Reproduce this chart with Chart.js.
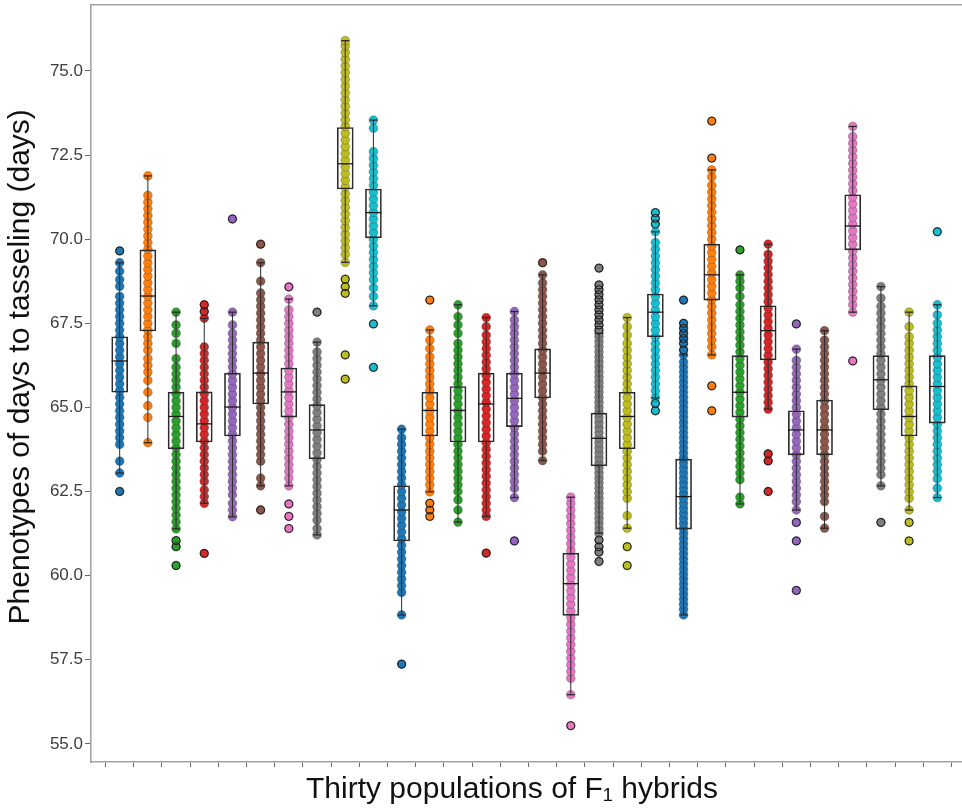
<!DOCTYPE html>
<html>
<head>
<meta charset="utf-8">
<script src="https://cdn.jsdelivr.net/npm/chart.js@4.4.1/dist/chart.umd.min.js"></script>
<style>
  html, body { margin: 0; padding: 0; background: #fff; overflow: hidden; }
  canvas { display: block; }
</style>
</head>
<body>
<canvas id="box" width="1024" height="809"></canvas>
<script>
// thirty F1 populations, one box + strip of points each
const populations = Array.from({length: 30}, (item, index) => 'F1-' + (index + 1));

// box statistics (days)
const whiskLow  = [63.05, 63.95, 61.39, 62.15, 61.75, 62.67, 62.67, 61.21, 69.31, 68.02,
                   58.83, 62.49, 61.59, 61.76, 62.32, 63.42, 56.46, 61.26, 61.41, 65.28,
                   58.83, 66.56, 62.13, 64.95, 61.95, 61.41, 67.83, 62.67, 61.95, 62.32];
const boxLow    = [65.45, 67.27, 63.77, 63.97, 64.15, 65.10, 64.71, 63.47, 71.49, 70.04,
                   61.03, 64.15, 63.97, 63.97, 64.43, 65.28, 58.82, 63.26, 63.77, 67.10,
                   61.38, 68.19, 64.71, 66.41, 63.59, 63.59, 69.68, 64.93, 64.15, 64.53];
const medians   = [66.38, 68.31, 64.73, 64.51, 65.01, 66.02, 65.46, 64.33, 72.24, 70.79,
                   61.95, 64.91, 64.91, 65.10, 65.27, 66.02, 59.76, 64.08, 64.73, 67.83,
                   62.35, 68.94, 65.45, 67.28, 64.33, 64.33, 70.39, 65.82, 64.73, 65.62];
const boxHigh   = [67.10, 69.68, 65.45, 65.46, 66.02, 66.94, 66.17, 65.08, 73.32, 71.49,
                   62.67, 65.45, 65.62, 66.02, 66.02, 66.74, 60.67, 64.83, 65.45, 68.37,
                   63.46, 69.85, 66.54, 68.02, 64.90, 65.22, 71.32, 66.54, 65.64, 66.54];
const whiskHigh = [69.30, 71.88, 67.83, 67.65, 67.83, 69.30, 68.22, 66.94, 75.90, 73.54,
                   64.35, 67.30, 68.05, 67.67, 67.85, 68.94, 62.33, 67.20, 67.67, 70.22,
                   66.56, 72.06, 68.94, 69.85, 66.73, 67.28, 73.35, 68.59, 67.83, 68.05];

// fliers (drawn as open black circles)
const outliers = [
  [62.5, 69.65], [], [61.04, 60.86, 60.3], [68.05, 67.85, 60.66], [70.6],
  [69.85, 61.95], [68.58, 62.13, 61.76, 61.4], [67.83], [68.81, 68.59, 68.39, 66.56, 65.84], [67.48, 66.19],
  [57.37], [68.19, 62.15, 61.95, 61.76], [], [60.67], [61.03],
  [69.3], [55.54], [69.14, 68.64, 68.5, 68.35, 68.2, 68.05, 67.9, 67.75, 67.6, 67.45, 67.3, 61.06, 60.86, 60.7, 60.42], [60.86, 60.3], [70.79, 70.62, 70.45, 65.12, 64.9],
  [68.19, 67.5, 67.35, 67.2, 67.05, 66.9, 66.71], [73.51, 72.41, 65.64, 64.9], [69.68], [63.62, 63.41, 62.5], [67.48, 61.58, 61.03, 59.56],
  [], [66.38], [61.58], [61.58, 61.03], [70.22]
];

// strip points (values overlap heavily, so only distinct levels are listed)
const points = [
  [62.5, 63.05, 63.4, 63.9, 64.1, 64.3, 64.5, 64.7, 64.9, 65.1, 65.3, 65.5, 65.7, 65.9, 66.1, 66.3, 66.5, 66.7, 66.9, 67.1, 67.3, 67.5, 67.7, 67.9, 68.1, 68.3, 68.6, 68.8, 69.05, 69.3, 69.65],
  [63.95, 64.7, 65.05, 65.45, 65.8, 66.05, 66.25, 66.45, 66.7, 66.9, 67.1, 67.3, 67.5, 67.7, 67.9, 68.1, 68.3, 68.5, 68.7, 68.9, 69.1, 69.3, 69.5, 69.7, 69.9, 70.1, 70.3, 70.5, 70.7, 70.9, 71.1, 71.3, 71.88],
  [60.3, 60.86, 61.04, 61.39, 61.6, 61.8, 62.0, 62.2, 62.4, 62.6, 62.8, 63.0, 63.2, 63.4, 63.6, 63.8, 64.0, 64.2, 64.4, 64.6, 64.8, 65.0, 65.2, 65.4, 65.6, 65.8, 66.0, 66.2, 66.45, 66.9, 67.2, 67.45, 67.83],
  [60.66, 62.15, 62.35, 62.55, 62.8, 63.0, 63.2, 63.4, 63.6, 63.8, 64.0, 64.2, 64.4, 64.6, 64.8, 65.0, 65.2, 65.4, 65.6, 65.8, 66.0, 66.2, 66.4, 66.6, 66.8, 67.65, 67.85, 68.05],
  [61.75, 61.95, 62.15, 62.4, 62.6, 62.8, 63.0, 63.2, 63.4, 63.6, 63.8, 64.0, 64.2, 64.4, 64.6, 64.8, 65.0, 65.2, 65.4, 65.6, 65.8, 66.0, 66.2, 66.4, 66.6, 66.8, 67.0, 67.2, 67.45, 67.83, 70.6],
  [61.95, 62.67, 62.9, 63.4, 63.6, 63.8, 64.0, 64.2, 64.4, 64.6, 64.8, 65.0, 65.2, 65.4, 65.6, 65.8, 66.0, 66.2, 66.4, 66.6, 66.8, 67.0, 67.2, 67.4, 67.6, 67.8, 68.0, 68.2, 68.4, 68.75, 69.3, 69.85],
  [61.4, 61.76, 62.13, 62.67, 62.9, 63.1, 63.3, 63.5, 63.7, 63.9, 64.1, 64.3, 64.5, 64.7, 64.9, 65.1, 65.3, 65.5, 65.7, 65.9, 66.1, 66.3, 66.5, 66.7, 66.9, 67.1, 67.3, 67.5, 67.7, 67.9, 68.22, 68.58],
  [61.21, 61.4, 61.65, 61.85, 62.05, 62.25, 62.45, 62.65, 62.85, 63.05, 63.25, 63.45, 63.65, 63.85, 64.05, 64.25, 64.45, 64.65, 64.85, 65.05, 65.25, 65.45, 65.65, 65.85, 66.05, 66.25, 66.45, 66.65, 66.94, 67.83],
  [65.84, 66.56, 68.39, 68.59, 68.81, 69.31, 69.55, 69.75, 69.95, 70.15, 70.35, 70.55, 70.75, 70.95, 71.15, 71.35, 71.55, 71.75, 71.95, 72.15, 72.35, 72.55, 72.75, 72.95, 73.15, 73.35, 73.55, 73.75, 73.95, 74.15, 74.35, 74.55, 74.75, 74.95, 75.15, 75.35, 75.55, 75.75, 75.9],
  [66.19, 67.48, 68.02, 68.3, 68.55, 68.8, 69.0, 69.2, 69.4, 69.6, 69.8, 70.0, 70.2, 70.4, 70.6, 70.8, 71.0, 71.2, 71.4, 71.6, 71.8, 72.0, 72.2, 72.4, 72.6, 73.3, 73.54],
  [57.37, 58.83, 59.5, 59.7, 59.9, 60.1, 60.3, 60.5, 60.7, 60.9, 61.1, 61.3, 61.5, 61.7, 61.9, 62.1, 62.3, 62.5, 62.7, 62.9, 63.1, 63.3, 63.5, 63.7, 63.9, 64.1, 64.35],
  [61.76, 61.95, 62.15, 62.49, 62.7, 62.9, 63.1, 63.3, 63.5, 63.7, 63.9, 64.1, 64.3, 64.5, 64.7, 64.9, 65.1, 65.3, 65.5, 65.7, 65.9, 66.1, 66.3, 66.5, 66.75, 67.0, 67.3, 68.19],
  [61.59, 61.95, 62.25, 62.5, 62.7, 62.9, 63.1, 63.3, 63.5, 63.7, 63.9, 64.1, 64.3, 64.5, 64.7, 64.9, 65.1, 65.3, 65.5, 65.7, 65.9, 66.1, 66.3, 66.5, 66.7, 66.9, 67.2, 67.45, 67.7, 68.05],
  [60.67, 61.76, 61.95, 62.15, 62.35, 62.55, 62.75, 62.95, 63.15, 63.35, 63.55, 63.75, 63.95, 64.15, 64.35, 64.55, 64.75, 64.95, 65.15, 65.35, 65.55, 65.75, 65.95, 66.15, 66.35, 66.55, 66.75, 66.95, 67.15, 67.4, 67.67],
  [61.03, 62.32, 62.6, 62.8, 63.0, 63.2, 63.4, 63.6, 63.8, 64.0, 64.2, 64.4, 64.6, 64.8, 65.0, 65.2, 65.4, 65.6, 65.8, 66.0, 66.2, 66.4, 66.6, 66.8, 67.0, 67.2, 67.4, 67.6, 67.85],
  [63.42, 63.7, 63.9, 64.1, 64.3, 64.5, 64.7, 64.9, 65.1, 65.3, 65.5, 65.7, 65.9, 66.1, 66.3, 66.5, 66.7, 66.9, 67.1, 67.3, 67.5, 67.7, 67.9, 68.1, 68.3, 68.5, 68.7, 68.94, 69.3],
  [55.54, 56.46, 56.95, 57.15, 57.35, 57.55, 57.75, 57.95, 58.15, 58.35, 58.55, 58.75, 58.95, 59.15, 59.35, 59.55, 59.75, 59.95, 60.15, 60.35, 60.55, 60.75, 60.95, 61.15, 61.35, 61.55, 61.75, 61.95, 62.15, 62.33],
  [60.42, 60.7, 60.86, 61.06, 61.26, 61.4, 61.55, 61.7, 61.85, 62.0, 62.15, 62.3, 62.45, 62.6, 62.75, 62.9, 63.05, 63.2, 63.35, 63.5, 63.65, 63.8, 63.95, 64.1, 64.25, 64.4, 64.55, 64.7, 64.85, 65.0, 65.15, 65.3, 65.45, 65.6, 65.75, 65.9, 66.05, 66.2, 66.35, 66.5, 66.65, 66.8, 66.95, 67.1, 67.2, 67.3, 67.45, 67.6, 67.75, 67.9, 68.05, 68.2, 68.35, 68.5, 68.64, 69.14],
  [60.3, 60.86, 61.41, 61.78, 62.3, 62.5, 62.7, 62.9, 63.1, 63.3, 63.5, 63.7, 63.9, 64.1, 64.3, 64.5, 64.7, 64.9, 65.1, 65.3, 65.5, 65.7, 65.9, 66.1, 66.3, 66.5, 66.7, 66.9, 67.15, 67.4, 67.67],
  [64.9, 65.12, 65.3, 65.5, 65.7, 65.9, 66.1, 66.3, 66.5, 66.7, 66.9, 67.1, 67.3, 67.5, 67.7, 67.9, 68.1, 68.3, 68.5, 68.7, 68.9, 69.1, 69.3, 69.5, 69.7, 69.9, 70.22, 70.45, 70.62, 70.79],
  [58.83, 59.0, 59.15, 59.3, 59.45, 59.6, 59.75, 59.9, 60.05, 60.2, 60.35, 60.5, 60.65, 60.8, 60.95, 61.1, 61.25, 61.4, 61.55, 61.7, 61.85, 62.0, 62.15, 62.3, 62.45, 62.6, 62.75, 62.9, 63.05, 63.2, 63.35, 63.5, 63.65, 63.8, 63.95, 64.1, 64.25, 64.4, 64.55, 64.7, 64.85, 65.0, 65.15, 65.3, 65.45, 65.6, 65.75, 65.9, 66.05, 66.2, 66.35, 66.56, 66.71, 66.9, 67.05, 67.2, 67.35, 67.5, 68.19],
  [64.9, 65.64, 66.56, 66.8, 67.0, 67.2, 67.4, 67.6, 67.8, 68.0, 68.2, 68.4, 68.6, 68.8, 69.0, 69.2, 69.4, 69.6, 69.8, 70.0, 70.2, 70.4, 70.6, 70.8, 71.0, 71.2, 71.4, 71.6, 71.85, 72.06, 72.41, 73.51],
  [62.13, 62.33, 62.85, 63.05, 63.25, 63.45, 63.65, 63.85, 64.05, 64.25, 64.45, 64.65, 64.85, 65.05, 65.25, 65.45, 65.65, 65.85, 66.05, 66.25, 66.45, 66.65, 66.85, 67.05, 67.25, 67.45, 67.65, 67.85, 68.05, 68.3, 68.55, 68.75, 68.94, 69.68],
  [62.5, 63.41, 63.62, 64.95, 65.15, 65.35, 65.55, 65.75, 65.95, 66.15, 66.35, 66.55, 66.75, 66.95, 67.15, 67.35, 67.55, 67.75, 67.95, 68.15, 68.35, 68.55, 68.75, 68.95, 69.15, 69.35, 69.55, 69.85],
  [59.56, 61.03, 61.58, 61.95, 62.2, 62.4, 62.6, 62.8, 63.0, 63.2, 63.4, 63.6, 63.8, 64.0, 64.2, 64.4, 64.6, 64.8, 65.0, 65.2, 65.4, 65.6, 65.8, 66.0, 66.2, 66.4, 66.73, 67.48],
  [61.41, 61.76, 62.2, 62.4, 62.6, 62.8, 63.0, 63.2, 63.4, 63.6, 63.8, 64.0, 64.2, 64.4, 64.6, 64.8, 65.0, 65.2, 65.4, 65.6, 65.8, 66.0, 66.2, 66.4, 66.6, 66.8, 67.0, 67.28],
  [66.38, 67.83, 68.05, 68.25, 68.45, 68.65, 68.85, 69.05, 69.25, 69.45, 69.65, 69.85, 70.05, 70.25, 70.45, 70.65, 70.85, 71.05, 71.25, 71.45, 71.65, 71.85, 72.05, 72.25, 72.45, 72.65, 72.85, 73.05, 73.35],
  [61.58, 62.67, 63.0, 63.2, 63.4, 63.6, 63.8, 64.0, 64.2, 64.4, 64.6, 64.8, 65.0, 65.2, 65.4, 65.6, 65.8, 66.0, 66.2, 66.4, 66.6, 66.8, 67.0, 67.2, 67.4, 67.6, 67.8, 68.0, 68.25, 68.59],
  [61.03, 61.58, 61.95, 62.3, 62.5, 62.7, 62.9, 63.1, 63.3, 63.5, 63.7, 63.9, 64.1, 64.3, 64.5, 64.7, 64.9, 65.1, 65.3, 65.5, 65.7, 65.9, 66.1, 66.3, 66.5, 66.7, 66.9, 67.1, 67.4, 67.83],
  [62.32, 62.6, 62.88, 63.1, 63.3, 63.5, 63.7, 63.9, 64.1, 64.3, 64.5, 64.7, 64.9, 65.1, 65.3, 65.5, 65.7, 65.9, 66.1, 66.3, 66.5, 66.7, 66.9, 67.1, 67.3, 67.5, 67.75, 68.05, 70.22]
];

// y axis tick values
const yTicks = [55.0, 57.5, 60.0, 62.5, 65.0, 67.5, 70.0, 72.5, 75.0];

// matplotlib default colour cycle
const palette = ['#1f77b4', '#ff7f0e', '#2ca02c', '#d62728', '#9467bd',
                 '#8c564b', '#e377c2', '#7f7f7f', '#bcbd22', '#17becf'];

const spineColor = '#a3a3a3';
const lineColor = '#2b2b2b';
const font = 'Liberation Sans, Arial, sans-serif';

const datasets = [];

// strip points, one dataset per population (drawn underneath the boxes)
points.forEach((vals, i) => {
    datasets.push({
        type: 'scatter',
        data: vals.map(v => ({x: i, y: v})),
        pointRadius: 4.4,
        pointBackgroundColor: palette[i % palette.length],
        pointBorderColor: 'rgba(30,30,30,0.45)',
        pointBorderWidth: 0.6,
        order: 5
    });
});

// whiskers: q1 -> low and q3 -> high, separated by gaps
const whiskerData = [];
populations.forEach((p, i) => {
    whiskerData.push({x: i, y: whiskLow[i]}, {x: i, y: boxLow[i]}, {x: i, y: null});
    whiskerData.push({x: i, y: boxHigh[i]}, {x: i, y: whiskHigh[i]}, {x: i, y: null});
});
datasets.push({
    type: 'line',
    data: whiskerData,
    borderColor: lineColor,
    borderWidth: 1,
    pointRadius: 0,
    spanGaps: false,
    order: 2
});

// whisker caps
const capData = [];
populations.forEach((p, i) => {
    capData.push({x: i, y: whiskLow[i]}, {x: i, y: whiskHigh[i]});
});
datasets.push({
    type: 'scatter',
    data: capData,
    pointStyle: 'line',
    pointRadius: 4,
    pointBorderColor: lineColor,
    pointBorderWidth: 1.3,
    order: 2
});

// boxes q1..q3
datasets.push({
    type: 'bar',
    data: populations.map((p, i) => ({x: i, y: [boxLow[i], boxHigh[i]]})),
    backgroundColor: 'rgba(0,0,0,0)',
    borderColor: lineColor,
    borderWidth: 1,
    borderSkipped: false,
    barThickness: 16,
    grouped: false,
    order: 2
});

// medians
datasets.push({
    type: 'scatter',
    data: populations.map((p, i) => ({x: i, y: medians[i]})),
    pointStyle: 'line',
    pointRadius: 8,
    pointBorderColor: '#1a1a1a',
    pointBorderWidth: 1.3,
    order: 1
});

// fliers on top
const flierData = [];
outliers.forEach((vals, i) => {
    vals.forEach(v => flierData.push({x: i, y: v}));
});
datasets.push({
    type: 'scatter',
    data: flierData,
    pointRadius: 4,
    pointBackgroundColor: 'rgba(0,0,0,0)',
    pointBorderColor: '#1a1a1a',
    pointBorderWidth: 1,
    order: 0
});

// every dataset uses the main axes
datasets.forEach(d => { d.xAxisID = 'x'; d.yAxisID = 'y'; });

// vertical scales reserve half a label height at the top; not wanted here
const noVerticalPadding = s => { s.paddingTop = 0; s.paddingBottom = 0; };

new Chart(document.getElementById('box'), {
    type: 'scatter',
    data: {datasets: datasets},
    options: {
        responsive: false,
        animation: false,
        events: [],
        layout: {
            // no extra room for point overflow, the frame sits 5px from the top
            autoPadding: false,
            padding: {top: 5, left: 0, right: 0, bottom: 0}
        },
        plugins: {
            legend: {display: false},
            tooltip: {enabled: false},
            // x label sits left of the axes centre, so it is a canvas-wide title
            title: {
                display: true,
                position: 'bottom',
                text: 'Thirty populations of F\u2081 hybrids',
                color: '#111',
                font: {family: font, size: 30, weight: 'normal', lineHeight: 1.2},
                padding: {top: 0, bottom: 1}
            }
        },
        scales: {
            x: {
                type: 'linear',
                min: -0.5,
                max: 29.5,
                afterBuildTicks: s => { s.ticks = populations.map((p, i) => ({value: i})); },
                afterFit: s => { s.height = 10; },
                ticks: {callback: () => '', padding: 0, font: {size: 1}},
                grid: {drawOnChartArea: false, drawTicks: true, tickLength: 5, color: '#666', lineWidth: 1},
                border: {display: true, color: spineColor, width: 1.6}
            },
            y: {
                type: 'linear',
                min: 54.46,
                max: 76.96,
                afterBuildTicks: s => { s.ticks = yTicks.map(v => ({value: v})); },
                afterFit: s => { s.width = 91; noVerticalPadding(s); },
                ticks: {
                    callback: v => v.toFixed(1),
                    color: '#3d3d3d',
                    padding: 2,
                    font: {family: font, size: 17}
                },
                grid: {drawOnChartArea: false, drawTicks: true, tickLength: 6, color: '#666', lineWidth: 1},
                border: {display: true, color: spineColor, width: 1.6},
                title: {
                    display: true,
                    text: '    Phenotypes of days to tasseling (days)',
                    color: '#111',
                    font: {family: font, size: 30, lineHeight: 1.2},
                    padding: {top: 3, bottom: 0}
                }
            },
            xTop: {
                type: 'linear',
                position: 'top',
                min: 0,
                max: 1,
                afterFit: s => { s.height = 0; },
                ticks: {display: false},
                grid: {display: false},
                border: {display: true, color: spineColor, width: 1.6}
            },
            // empty strip on the right; the axes run past the photographed window
            yRight: {
                type: 'linear',
                position: 'right',
                min: 0,
                max: 1,
                afterFit: s => { s.width = 58; noVerticalPadding(s); },
                ticks: {display: false, padding: 0, font: {size: 1}},
                grid: {display: false},
                border: {display: false}
            }
        }
    }
});
</script>
</body>
</html>
